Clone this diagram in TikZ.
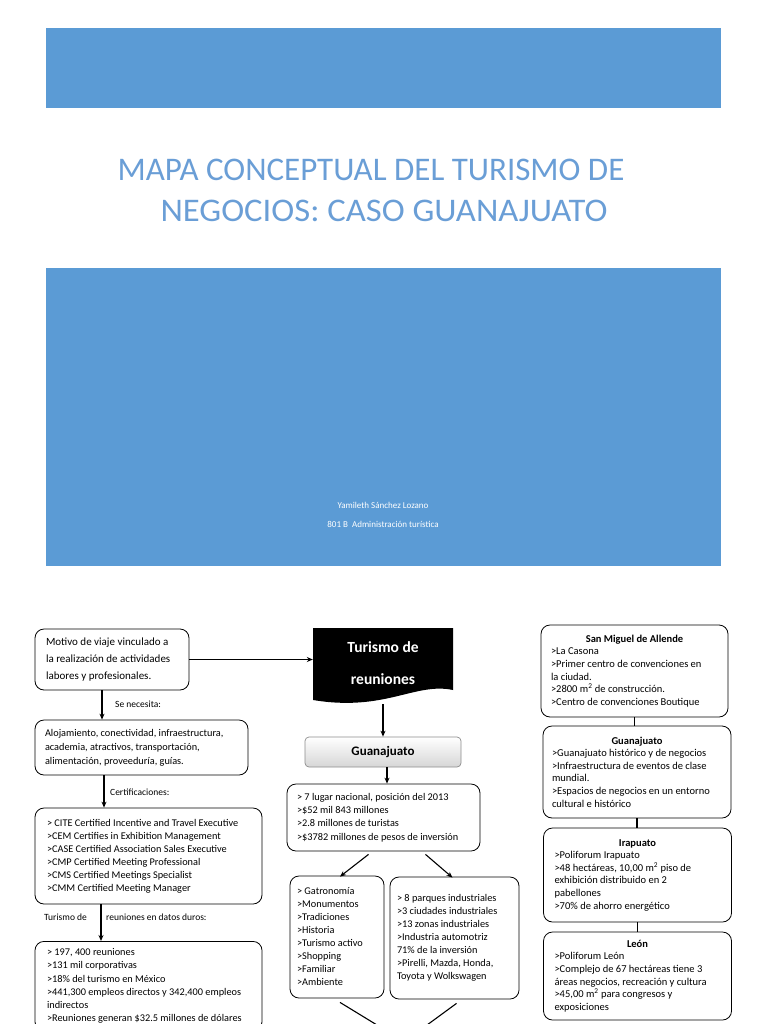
\documentclass[tikz,border=0pt]{standalone}
\usepackage{fontspec}
\setmainfont{Carlito}
\usetikzlibrary{arrows.meta,shadings}
\definecolor{wblue}{HTML}{5B9BD5}
\definecolor{tblue}{HTML}{6A9ED6}
\newcommand\myfs[2]{\fontsize{#1}{#2}\selectfont}
\tikzset{
  box/.style={draw, line width=0.8pt, rounded corners=9pt, align=flush left, inner ysep=0pt, font=\myfs{10.3}{13}},
  rbox/.style={box, font=\myfs{10.5}{12.6}},
  conn/.style={line width=1.1pt, -{Stealth[length=6pt,width=5pt]}},
  plain/.style={line width=1.1pt},
  lbl/.style={inner sep=0pt, anchor=base west, font=\myfs{9.5}{11}},
}
\begin{document}
\begin{tikzpicture}[x=1pt,y=-1pt]
\useasboundingbox (0,0) rectangle (768,1024);
\clip (0,0) rectangle (768,1024);
% cover
\fill[wblue] (46,28) rectangle (721,108);
\node[inner sep=0pt, anchor=base, text=tblue, font=\myfs{33}{41}] (title1) at (371,181) {MAPA CONCEPTUAL DEL TURISMO DE};
\node[inner sep=0pt, anchor=base, text=tblue, font=\myfs{33}{41}] (title2) at (384,222) {\scalebox{1.05}[1]{NEGOCIOS: CASO GUANAJUATO}};
\fill[wblue] (46,268) rectangle (721,566);
\node[inner sep=0pt, anchor=base, text=white, font=\myfs{9}{11}] (author) at (383,508) {Yamileth Sánchez Lozano};
\node[inner sep=0pt, anchor=base, text=white, font=\myfs{9}{11}] (group) at (383,527) {801 B\ \ Administración turística};

% left column
\node[box, font=\myfs{11}{17}, minimum width=154pt, minimum height=61pt, inner xsep=11pt, text width=132pt] (A) at (112,659.5)
  {\mbox{Motivo de viaje vinculado a}\\\mbox{la realización de actividades}\\\mbox{labores y profesionales.}};
\node[box, font=\myfs{10.3}{14}, minimum width=213pt, minimum height=55pt, inner xsep=10pt, text width=193pt] (B) at (141.5,747.5)
  {Alojamiento, conectividad, infraestructura,\\academia, atractivos, transportación,\\alimentación, proveeduría, guías.};
\node[box, minimum width=227pt, minimum height=96pt, inner xsep=12pt, text width=203pt] (C) at (148.5,856)
  {> CITE Certified Incentive and Travel Executive\\>CEM Certifies in Exhibition Management\\>CASE Certified Association Sales Executive\\>CMP Certified Meeting Professional\\>CMS Certified Meetings Specialist\\>CMM Certified Meeting Manager};
\node[box, font=\myfs{10.3}{13.3}, anchor=north, minimum width=227pt, inner xsep=12pt, inner ysep=7pt, text width=203pt] (D) at (148.5,941)
  {> 197, 400 reuniones\\>131 mil corporativas\\>18\% del turismo en México\\>441,300 empleos directos y 342,400 empleos\\indirectos\\>Reuniones generan \$32.5 millones de dólares};

\coordinate (xa) at (102,0);
\coordinate (xb) at (104,0);
\coordinate (xc) at (101,0);
\draw[conn] (A.south -| xa) -- (B.north -| xa);
\node[lbl] (l1) at (115,707) {Se necesita:};
\draw[conn] (B.south -| xb) -- (C.north -| xb);
\node[lbl] (l2) at (110,795) {Certificaciones:};
\draw[conn] (C.south -| xc) -- (D.north -| xc);
\node[lbl] (l3) at (44,920) {Turismo de};
\node[lbl] (l4) at (106,920) {reuniones en datos duros:};

% center column
\fill[black] (313,628) -- (453,628) -- (453,690) .. controls (415,682) and (385,712) .. (313,700) -- cycle;
\node[inner sep=0pt, minimum width=140pt, minimum height=66pt, text=white, font=\bfseries\myfs{15.5}{32}, align=center] (T) at (383,663)
  {Turismo de\\reuniones};
\draw[conn] (A.east) -- (A.east -| T.west);
\node[draw=black!45, line width=0.7pt, rounded corners=4pt, top color=white, bottom color=black!16, minimum width=156pt, minimum height=30pt, font=\bfseries\myfs{13}{15}] (G) at (383,752) {Guanajuato};
\draw[conn] (383,704) -- (G.north);
\node[box, font=\myfs{10.3}{13.3}, minimum width=193pt, minimum height=67pt, inner xsep=10pt, text width=173pt] (H) at (383.5,817.5)
  {> 7 lugar nacional, posición del 2013\\>\$52 mil 843 millones\\>2.8 millones de turistas\\>\$3782 millones de pesos de inversión};
\draw[conn] ([xshift=4pt]G.south) -- ([xshift=4pt]G.south |- H.north);
\node[box, minimum width=94pt, minimum height=122pt, inner xsep=7pt, text width=80pt] (I) at (337,937)
  {> Gatronomía\\>Monumentos\\>Tradiciones\\>Historia\\>Turismo activo\\>Shopping\\>Familiar\\>Ambiente};
\node[box, minimum width=129pt, minimum height=122pt, inner xsep=7pt, text width=115pt] (J) at (454.5,938)
  {> 8 parques industriales\\>3 ciudades industriales\\>13 zonas industriales\\>Industria automotriz\\71\% de la inversión\\>Pirelli, Mazda, Honda,\\Toyota y Wolkswagen};
\draw[conn] ([xshift=-15pt,yshift=-3pt]H.south) -- ([xshift=3pt,yshift=-1pt]I.north);
\draw[conn] ([xshift=42pt,yshift=-3pt]H.south) -- ([xshift=-2pt,yshift=-1pt]J.north);
\coordinate (bl) at (395,1036);
\coordinate (br) at (412,1036);
\draw[conn] ([xshift=3pt,yshift=-4pt]I.south) -- (bl);
\draw[conn] ([xshift=2pt,yshift=-4pt]J.south) -- (br);

% right column
\node[rbox, minimum width=187pt, minimum height=92pt, inner xsep=10pt, text width=167pt] (K) at (634.5,671)
  {\makebox[167pt]{\bfseries San Miguel de Allende}\\>La Casona\\>Primer centro de convenciones en\\la ciudad.\\>2800 m\textsuperscript{2} de construcción.\\>Centro de convenciones Boutique};
\node[rbox, minimum width=188pt, minimum height=92pt, inner xsep=9pt, text width=170pt] (L) at (637,772)
  {\makebox[170pt]{\bfseries Guanajuato}\\>Guanajuato histórico y de negocios\\>Infraestructura de eventos de clase\\mundial.\\>Espacios de negocios en un entorno\\cultural e histórico};
\node[rbox, minimum width=188pt, minimum height=94pt, inner xsep=11pt, text width=166pt] (M) at (637.5,875)
  {\makebox[166pt]{\bfseries Irapuato}\\>Poliforum Irapuato\\>48 hectáreas, 10,00 m\textsuperscript{2} piso de\\exhibición distribuido en 2\\pabellones\\>70\% de ahorro energético};
\node[rbox, minimum width=188pt, minimum height=88pt, inner xsep=11pt, text width=166pt] (N) at (637.5,976)
  {\makebox[166pt]{\bfseries León}\\>Poliforum León\\>Complejo de 67 hectáreas tiene 3\\áreas negocios, recreación y cultura\\>45,00 m\textsuperscript{2} para congresos y\\exposiciones};
\draw[plain] (K.south) -- (K.south |- L.north);
\draw[plain] (L.south) -- (L.south |- M.north);
\draw[plain] (M.south) -- (M.south |- N.north);
\end{tikzpicture}
\end{document}
